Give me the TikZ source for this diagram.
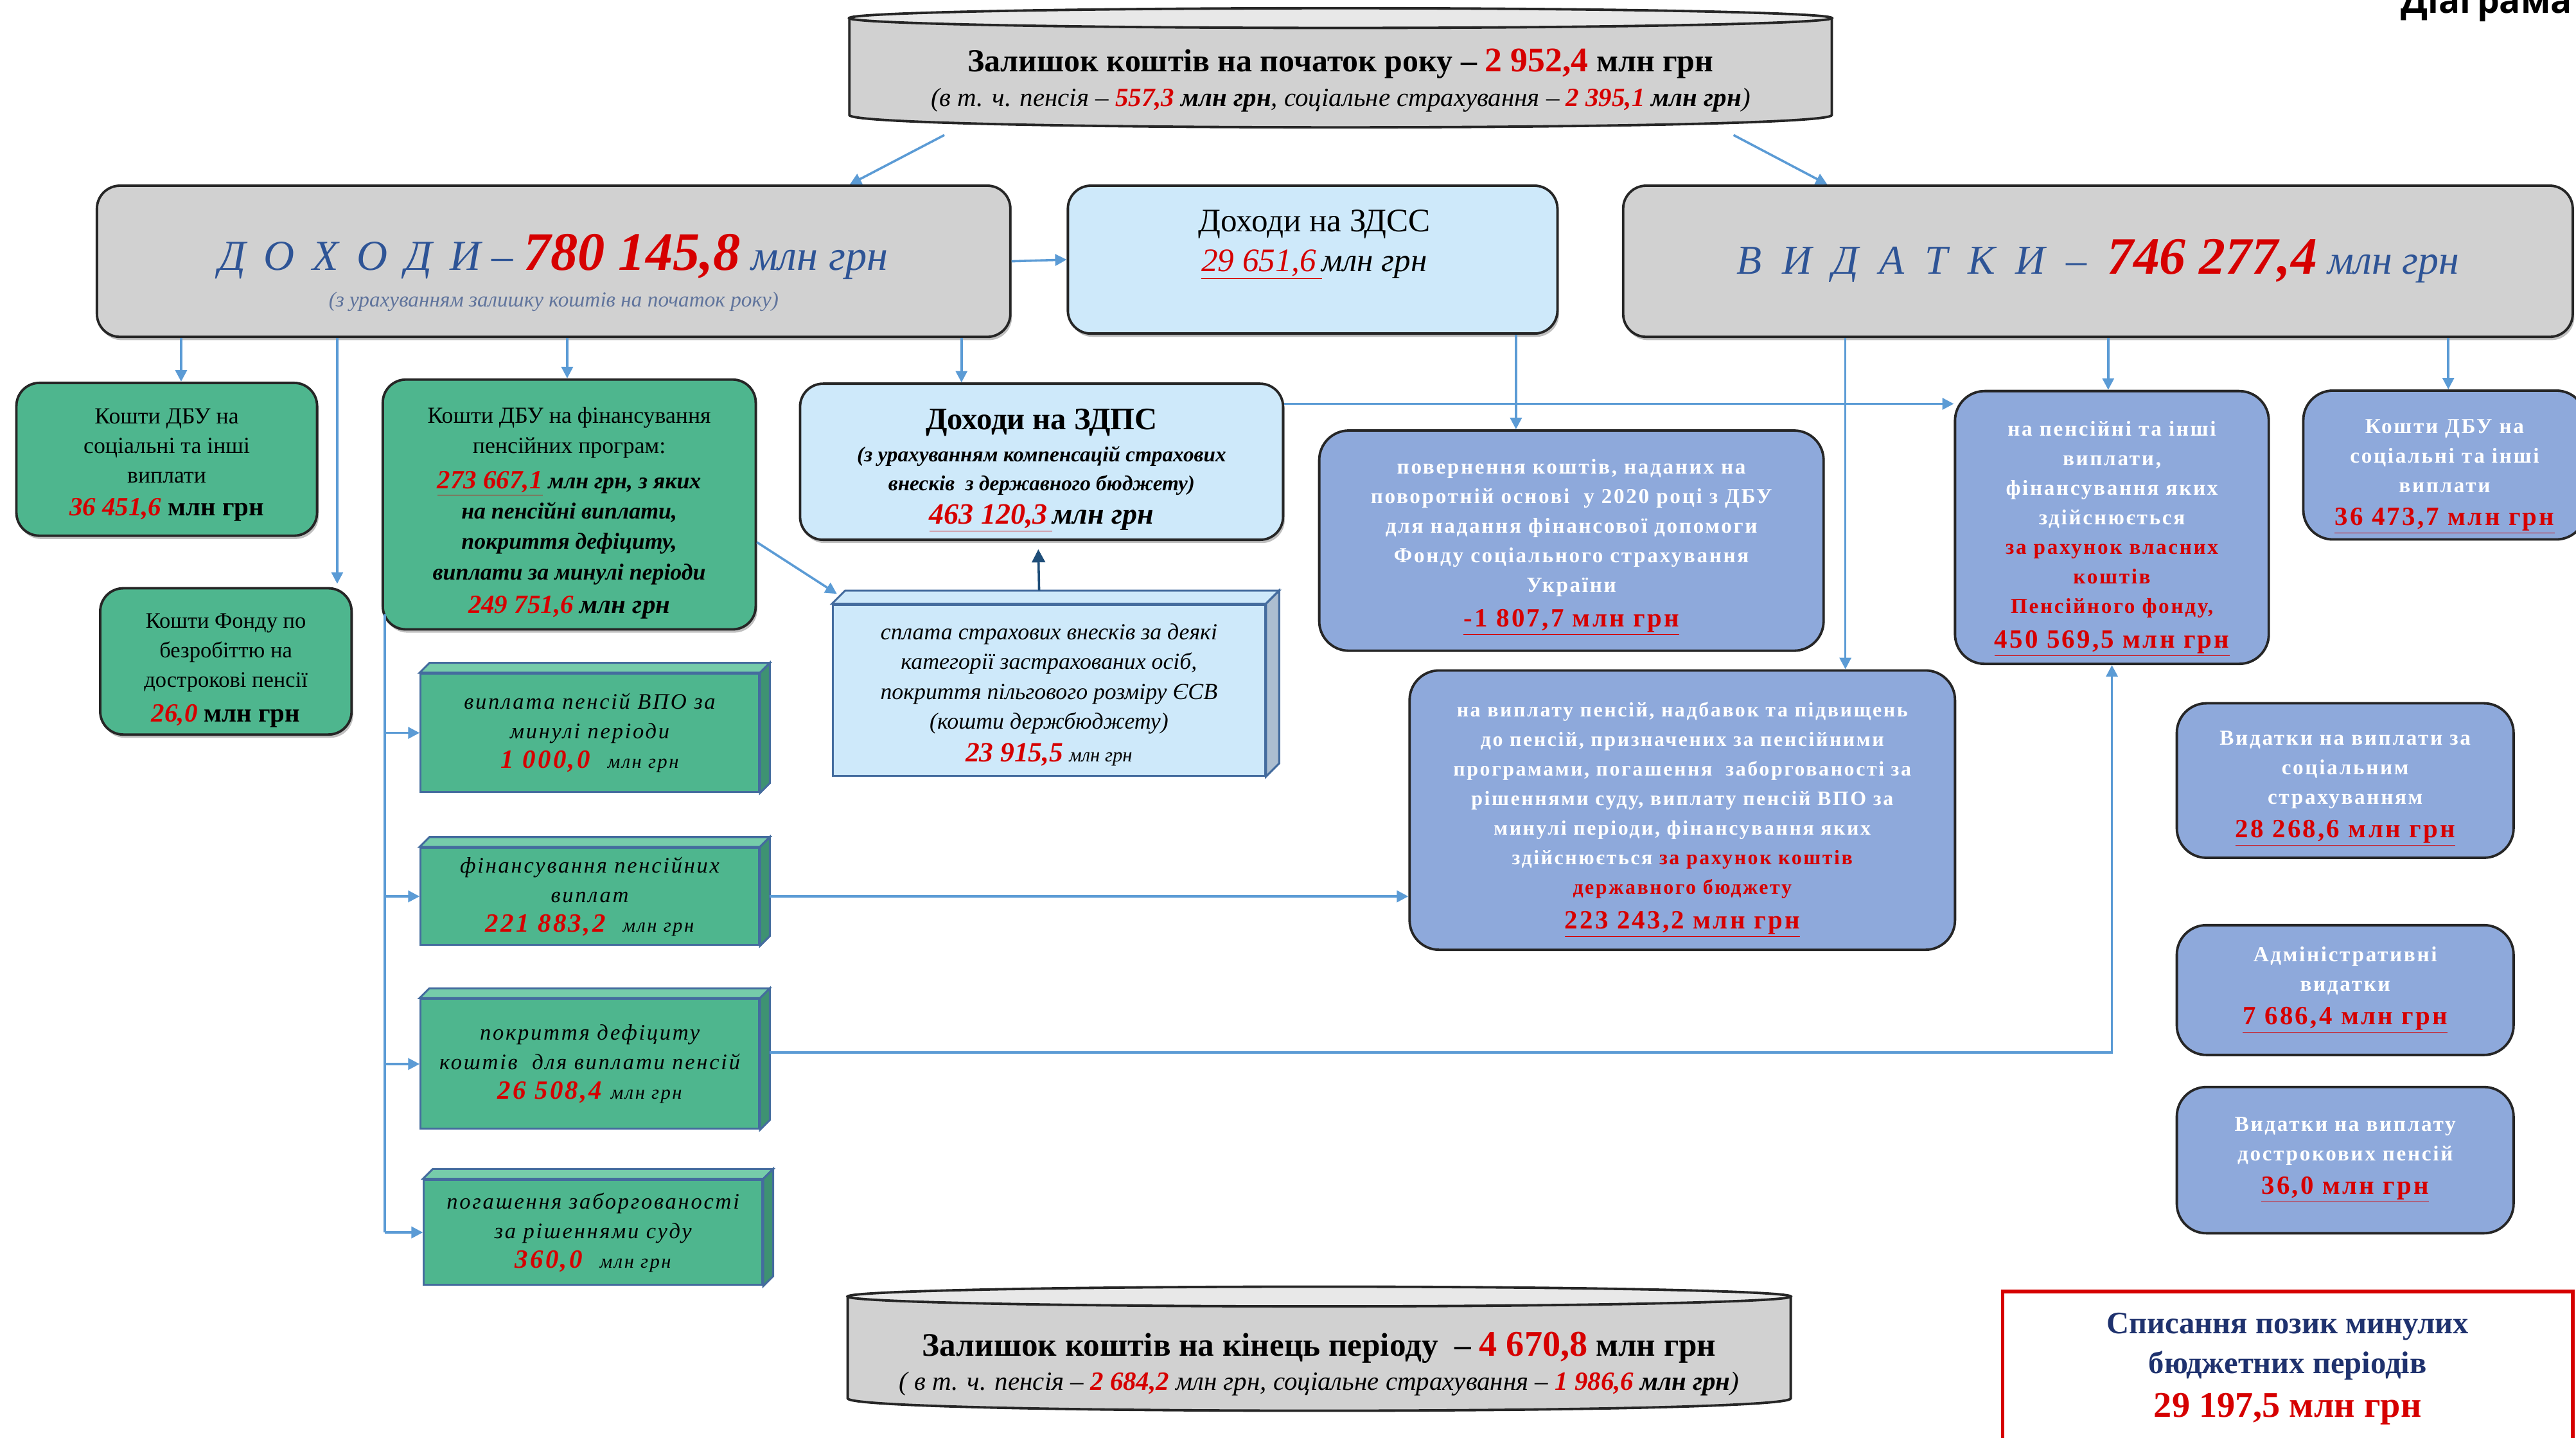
\documentclass[tikz,border=0pt]{standalone}
\usepackage{fontspec}
\setmainfont{Liberation Serif}
\newfontfamily\diagfont{Open Sans}
\newfontfamily\wideserif[LetterSpace=8]{Liberation Serif}
\usepackage{color}
\usetikzlibrary{arrows.meta,shadows}

\definecolor{boxgray}{RGB}{209,209,209}
\definecolor{capgray}{RGB}{232,232,232}
\definecolor{boxgreen}{RGB}{78,182,142}
\definecolor{topgreen}{RGB}{118,204,170}
\definecolor{sidegreen}{RGB}{62,146,114}
\definecolor{boxblue}{RGB}{142,169,219}
\definecolor{boxlight}{RGB}{206,233,250}
\definecolor{sidelight}{RGB}{172,190,208}
\definecolor{edgeblue}{RGB}{68,108,158}
\definecolor{flowblue}{RGB}{91,155,213}
\definecolor{flowdark}{RGB}{31,78,121}
\definecolor{numred}{RGB}{214,0,0}
\definecolor{headblue}{RGB}{46,84,150}
\definecolor{subblue}{RGB}{96,116,156}
\definecolor{navy}{RGB}{31,50,110}

\newcommand{\fsz}[2]{\fontsize{#1}{#2}\selectfont}
% pushes the text of a box a little down
\newcommand{\lift}[1]{\rule{0pt}{#1pt}}
% top and right faces of a box with depth
\newcommand{\boxdepth}[4]{%
  \filldraw[fill=#3, draw=edgeblue, line width=1.2pt] (#1.north west) -- ++(#2,-#2) -- ([shift={(#2pt,#2pt)}]#1.north east) -- (#1.north east) -- cycle;
  \filldraw[fill=#4, draw=edgeblue, line width=1.2pt] (#1.north east) -- ++(#2,-#2) -- ([shift={(#2pt,#2pt)}]#1.south east) -- (#1.south east) -- cycle;}

\begin{document}
\begin{tikzpicture}[x=1pt,y=-1pt]
	 \tikzstyle{flow}=[draw=flowblue,line width=1.4pt,-{Triangle[width=7pt,length=7pt]}]
	 \tikzstyle{flow dark}=[draw=flowdark,line width=1.4pt,-{Triangle[width=8pt,length=8pt]}]
	 \tikzstyle{gray box}=[rectangle,rounded corners=14,fill=boxgray,draw=black!85,line width=1.5pt,align=center,drop shadow={shadow xshift=1pt,shadow yshift=-2pt,fill=black!50}]
	 \tikzstyle{light box}=[gray box,fill=boxlight]
	 \tikzstyle{green box}=[rectangle,rounded corners=14,fill=boxgreen,draw=black!85,line width=1.5pt,align=center,drop shadow={shadow xshift=1pt,shadow yshift=-2pt,fill=black!50}]
	 \tikzstyle{blue box}=[rectangle,rounded corners=18,fill=boxblue,draw=black!85,line width=1.5pt,align=center,text=white,font=\wideserif\bfseries\fsz{13}{18}]
	 \tikzstyle{cube}=[rectangle,fill=boxgreen,draw=edgeblue,line width=1.2pt,align=center,font=\wideserif\itshape\fsz{13.5}{18}]
	 \useasboundingbox (0,0) rectangle (1568,875);
	 \node[anchor=base west,font=\diagfont\bfseries\fsz{21.5}{23}] (diag) at (1458,8) {Діаграма};
	 % cylinders
	 \filldraw[fill=boxgray,draw=black!85,line width=1.5pt] (517,11) -- (517,70) .. controls (517,80) and (1115,80) .. (1115,70) -- (1115,11) -- cycle;
	 \filldraw[fill=capgray,draw=black!85,line width=1.5pt] (816,11) ellipse [x radius=299,y radius=6];
	 \filldraw[fill=boxgray,draw=black!85,line width=1.5pt] (516,789) -- (516,851) .. controls (516,861) and (1090,861) .. (1090,851) -- (1090,789) -- cycle;
	 \filldraw[fill=capgray,draw=black!85,line width=1.5pt] (803,789) ellipse [x radius=287,y radius=6];
	 \node[minimum width=598,minimum height=58,align=center,font=\fsz{15}{22}] (top) at (816,49) {{\fsz{19.5}{24}\bfseries Залишок коштів на початок року – \textcolor{numred}{\fsz{21}{24}2 952,4} млн грн}\\[-1pt]
	   {\fsz{16}{20}\itshape (в т. ч. пенсія – \textcolor{numred}{\bfseries 557,3} \textbf{млн грн}, соціальне страхування – \textcolor{numred}{\bfseries 2 395,1} \textbf{млн грн})}};
	 \node[minimum width=574,minimum height=66,align=center,font=\fsz{15}{22}] (bot) at (803,830) {{\fsz{20}{24}\bfseries Залишок коштів на кінець періоду \ – \textcolor{numred}{\fsz{22}{24}4 670,8} млн грн}\\[-1pt]
	   {\fsz{16}{20}\itshape ( в т. ч. пенсія – \textcolor{numred}{\bfseries 2 684,2} млн грн, соціальне страхування – \textcolor{numred}{\bfseries 1 986,6} \textbf{млн грн})}};
	 % second row
	 \node[gray box,minimum width=556,minimum height=92,font=\fsz{14}{25}] (inc) at (337,159) {\lift{36}{\color{headblue}\itshape\fsz{26}{30}Д~\,О~\,Х~\,О~\,Д~\,И – \textcolor{numred}{\bfseries\fsz{33}{30}780 145,8} млн грн}\\[-3pt]
	   {\color{subblue}\itshape\fsz{13}{15}(з урахуванням залишку коштів на початок року)}};
	 \node[light box,minimum width=298,minimum height=90] (zdss) at (799,158) {};
	 \node[align=center,font=\fsz{20}{24}] (zdsstext) at (800,149) {Доходи на ЗДСС\\ {\itshape\textcolor{numred}{\underline{29 651,6\,}}млн грн}};
	 \node[gray box,minimum width=578,minimum height=92] (exp) at (1277,159) {{\color{headblue}\itshape\fsz{25}{30}В~~И~~Д~~А~~Т~~К~~И~ –~ \textcolor{numred}{\bfseries\fsz{32}{30}746 277,4} млн грн}};
	 % income side
	 \node[green box,minimum width=183,minimum height=93,font=\fsz{14}{18}] (g1) at (101.5,279.5) {\lift{16}Кошти ДБУ на\\ соціальні та інші\\ виплати\\[2pt] {\fsz{16}{20}\textcolor{numred}{\bfseries\itshape 36 451,6} \textbf{млн грн}}};
	 \node[green box,minimum width=153,minimum height=89,font=\fsz{13.5}{18}] (fond) at (137.5,402.5) {\lift{20}Кошти Фонду по\\ безробіттю на\\ дострокові пенсії\\[3pt] {\fsz{16}{20}\textcolor{numred}{\bfseries\itshape 26,0} \textbf{млн грн}}};
	 \node[green box,minimum width=227,minimum height=152,font=\fsz{14}{18.5}] (g2) at (346.5,307) {\lift{20}Кошти ДБУ на фінансування\\ пенсійних програм:\\[3pt]
	   {\bfseries\itshape\textcolor{numred}{\fsz{16}{20}\underline{273 667,1}} млн грн, з яких}\\ {\bfseries\itshape на пенсійні виплати,}\\ {\bfseries\itshape покриття дефіциту,}\\ {\bfseries\itshape виплати за минулі періоди}\\[2pt]
	   {\fsz{16}{20}\bfseries\itshape\textcolor{numred}{249 751,6} млн грн}};
	 \node[light box,minimum width=294,minimum height=95,font=\fsz{13}{17.5}] (zdps) at (634,281) {\lift{23}{\fsz{19}{22}\bfseries Доходи на ЗДПС}\\[2pt] {\fsz{13}{16}\bfseries\itshape (з урахуванням компенсацій страхових}\\ {\fsz{13}{16}\bfseries\itshape внесків\ \ з державного бюджету)}\\[3pt]
	   {\fsz{18}{22}\bfseries\itshape\textcolor{numred}{\underline{463 120,3\,}}млн грн}};
	 \node[cube,fill=boxlight,minimum width=263,minimum height=104,font=\itshape\fsz{14}{18}] (sub) at (638.5,420) {\lift{15.5}сплата страхових внесків за деякі\\ категорії застрахованих осіб,\\ покриття пільгового розміру ЄСВ\\ (кошти держбюджету)\\[2pt]
	   {\fsz{17}{21}\textcolor{numred}{\bfseries 23 915,5}} {\fsz{12}{21}млн грн}};
	 \node[cube,minimum width=206,minimum height=72] (pA) at (359,446) {виплата пенсій ВПО за\\ минулі періоди\\ {\fsz{16}{20}\textcolor{numred}{\bfseries 1 000,0}\ \ {\fsz{12}{20}млн грн}}};
	 \node[cube,minimum width=206,minimum height=59] (pB) at (359,545.5) {фінансування пенсійних\\ виплат\\ {\fsz{16}{20}\textcolor{numred}{\bfseries 221 883,2}\ \ {\fsz{12}{20}млн грн}}};
	 \node[cube,minimum width=206,minimum height=79] (pC) at (359,647.5) {покриття дефіциту\\ коштів\ \ для виплати пенсій\\ {\fsz{16}{20}\textcolor{numred}{\bfseries 26 508,4} {\fsz{12}{20}млн грн}}};
	 \node[cube,minimum width=206,minimum height=64] (pD) at (361,750) {погашення заборгованості\\ за рішеннями суду\\ {\fsz{16}{20}\textcolor{numred}{\bfseries 360,0}\ \ {\fsz{12}{20}млн грн}}};
	 \boxdepth{sub}{8}{boxlight}{sidelight}
	 \boxdepth{pA}{6}{topgreen}{sidegreen}
	 \boxdepth{pB}{6}{topgreen}{sidegreen}
	 \boxdepth{pC}{6}{topgreen}{sidegreen}
	 \boxdepth{pD}{6}{topgreen}{sidegreen}
	 % expenditure side
	 \node[blue box,minimum width=307,minimum height=134] (back) at (956.5,329) {\lift{17}повернення коштів, наданих на\\ поворотній основі\ \ у 2020 році з ДБУ\\ для надання фінансової допомоги\\ Фонду соціального страхування\\ України\\[3pt]
	   {\fsz{16}{20}\textcolor{numred}{\underline{-1 807,7 млн грн}}}};
	 \node[blue box,minimum width=332,minimum height=170,font=\wideserif\bfseries\fsz{12.5}{18}] (big) at (1024,493) {\lift{20.5}на виплату пенсій, надбавок та підвищень\\ до пенсій, призначених за пенсійними\\ програмами, погашення\ \ заборгованості за\\ рішеннями суду, виплату пенсій ВПО за\\ минулі періоди, фінансування яких\\
	   здійснюється \textcolor{numred}{за рахунок коштів}\\ \textcolor{numred}{державного бюджету}\\[3pt] {\fsz{16}{21}\textcolor{numred}{\underline{223 243,2 млн грн}}}};
	 \node[blue box,minimum width=191,minimum height=166] (pens) at (1285.5,321) {\lift{23}на пенсійні та інші\\ виплати,\\ фінансування яких\\ здійснюється\\ \textcolor{numred}{за рахунок власних}\\ \textcolor{numred}{коштів}\\ \textcolor{numred}{Пенсійного фонду,}\\[3pt]
	   {\fsz{16}{21}\textcolor{numred}{\underline{450 569,5 млн грн}}}};
	 \node[blue box,minimum width=172,minimum height=90] (dbu) at (1488,283) {\lift{22.5}Кошти ДБУ на\\ соціальні та інші\\ виплати\\[2pt] {\fsz{16}{21}\textcolor{numred}{\underline{36 473,7 млн грн}}}};
	 \node[blue box,minimum width=205,minimum height=94] (soc) at (1427.5,475) {\lift{18.5}Видатки на виплати за\\ соціальним\\ страхуванням\\[2pt] {\fsz{16}{21}\textcolor{numred}{\underline{28 268,6 млн грн}}}};
	 \node[blue box,minimum width=205,minimum height=79] (adm) at (1427.5,602.5) {Адміністративні\\ видатки\\[2pt] {\fsz{16}{21}\textcolor{numred}{\underline{7 686,4 млн грн}}}};
	 \node[blue box,minimum width=205,minimum height=89] (early) at (1427.5,706) {Видатки на виплату\\ дострокових пенсій\\[2pt] {\fsz{16}{21}\textcolor{numred}{\underline{36,0 млн грн}}}};
	 \node[draw=numred,line width=2.2pt,fill=white,minimum width=347,minimum height=94,align=center,font=\fsz{19}{24.5}] (loan) at (1392.5,833) {{\color{navy}\bfseries\fsz{19}{24}Списання позик минулих}\\ {\color{navy}\bfseries\fsz{19}{24}бюджетних періодів}\\[2pt]
	   {\color{numred}\bfseries\fsz{22}{26}29 197,5 млн грн}};
	 % connectors
	 \coordinate (d1) at ([xshift=52pt]inc.south west);
	 \coordinate (d2) at ([xshift=147pt]inc.south west);
	 \coordinate (d3) at ([xshift=287pt]inc.south west);
	 \coordinate (d4) at ([xshift=527pt]inc.south west);
	 \coordinate (d5) at ([xshift=-26pt]zdss.south east);
	 \coordinate (d6) at ([yshift=-13pt]zdps.north east);
	 \coordinate (e1) at ([xshift=136pt]exp.south west);
	 \coordinate (e2) at ([xshift=296pt]exp.south west);
	 \coordinate (e3) at ([xshift=503pt]exp.south west);
	 \coordinate (trunk) at ([xshift=2pt,yshift=10pt]g2.south west);
	 \draw[flow] ([xshift=58pt,yshift=-4pt]top.south west) -- ([xshift=459pt]inc.north west);
	 \draw[flow] ([xshift=-60pt,yshift=-4pt]top.south east) -- ([xshift=125pt]exp.north west);
	 \draw[flow] (inc.east) -- (zdss.west);
	 \draw[flow] (d1) -- (d1 |- g1.north);
	 \draw[flow] (d2) -- ([yshift=2pt]d2 |- fond.north);
	 \draw[flow] (d3) -- (d3 |- g2.north);
	 \draw[flow] (d4) -- (d4 |- zdps.north);
	 \draw[flow] (d5) -- (d5 |- back.north);
	 \draw[flow] (d6) -- (d6 -| pens.west);
	 \draw[flow] (e1) -- (e1 |- big.north);
	 \draw[flow] (e2) -- (e2 |- pens.north);
	 \draw[flow] (e3) -- (e3 |- dbu.north);
	 \draw[flow] ([yshift=-23pt]g2.east) -- ([xshift=3pt,yshift=6pt]sub.north west);
	 \draw[flow dark] ([xshift=-6pt,yshift=8pt]sub.north) -- ([xshift=-2pt,yshift=-5pt]zdps.south);
	 \draw[draw=flowblue,line width=1.4pt] (trunk) -- (trunk |- pD.west);
	 \draw[flow] (trunk |- pA.west) -- (pA.west);
	 \draw[flow] (trunk |- pB.west) -- (pB.west);
	 \draw[flow] (trunk |- pC.west) -- (pC.west);
	 \draw[flow] (trunk |- pD.west) -- (pD.west);
	 \draw[flow] ([xshift=6pt]pB.east) -- (pB.east -| big.west);
	 \draw[flow] ([xshift=6pt,yshift=7pt]pC.east) -| (pens.south);
 \end{tikzpicture}
\end{document}
